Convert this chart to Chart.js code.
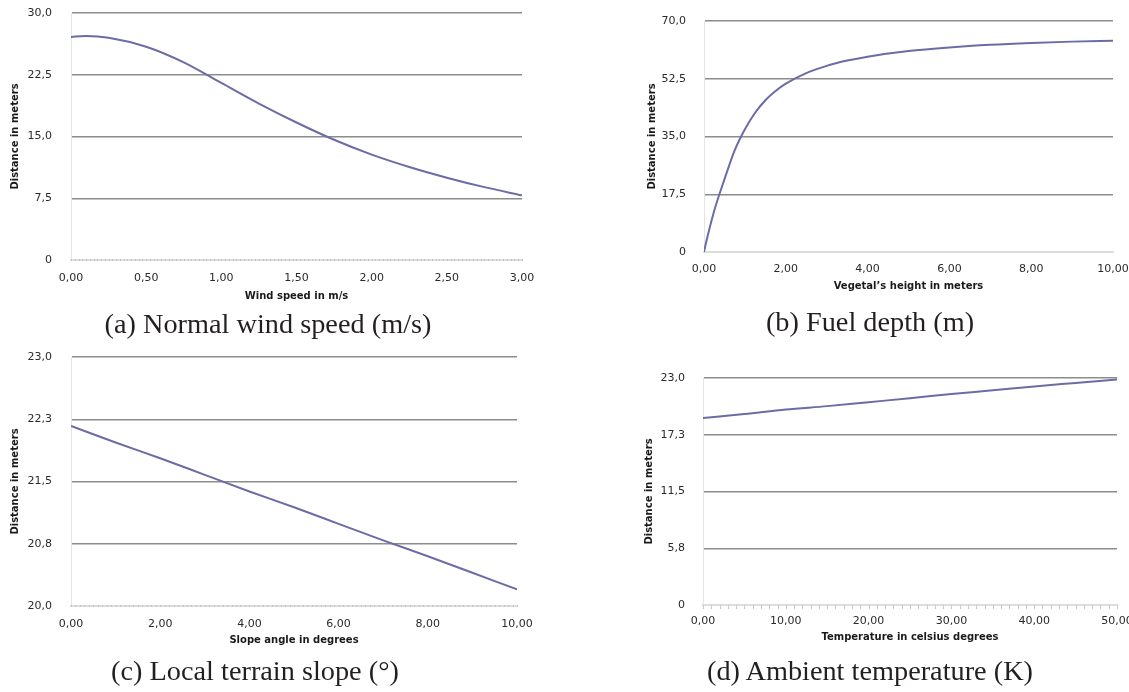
<!DOCTYPE html>
<html>
<head>
<meta charset="utf-8">
<script src="https://cdn.jsdelivr.net/npm/chart.js@4.4.1/dist/chart.umd.min.js"></script>
<style>
  html, body { margin: 0; padding: 0; background: #fff; overflow: hidden; width: 1129px; height: 692px; }
  canvas { position: absolute; }
  .cap { position: absolute; width: 500px; text-align: center; white-space: nowrap;
         font-family: "Liberation Serif", "Times New Roman", serif; font-size: 28.3px; line-height: 32px; color: #231f20; }
</style>
</head>
<body>
<canvas id="chartA" width="560" height="310" style="left:0;top:0"></canvas>
<canvas id="chartB" width="500" height="300" style="left:637px;top:0"></canvas>
<canvas id="chartC" width="560" height="320" style="left:0;top:340px"></canvas>
<canvas id="chartD" width="500" height="320" style="left:637px;top:340px"></canvas>
<div class="cap" style="left:18px;top:308px">(a) Normal wind speed (m/s)</div>
<div class="cap" style="left:620px;top:306px">(b) Fuel depth (m)</div>
<div class="cap" style="left:5px;top:655px">(c) Local terrain slope (°)</div>
<div class="cap" style="left:620px;top:655px">(d) Ambient temperature (K)</div>
<script>
// (a) normal wind speed
const windSpeed = [0, 0.1, 0.25, 0.5, 0.75, 1, 1.25, 1.5, 1.75, 2, 2.25, 2.5, 2.75, 3];
const windDist = [27.1, 27.2, 27.0, 25.9, 24.0, 21.5, 19.0, 16.7, 14.6, 12.8, 11.3, 10.0, 8.85, 7.85];
const windXTicks = [0, 0.5, 1, 1.5, 2, 2.5, 3];
const windYTicks = [0, 7.5, 15, 22.5, 30];

// (b) fuel depth
const fuelDepth = [0, 0.05, 0.25, 0.5, 0.75, 1, 1.25, 1.5, 1.75, 2, 2.5, 3, 3.5, 4, 5, 6, 7, 8, 9, 10];
const fuelDist = [0, 2.8, 12.5, 22, 30.8, 37.2, 42.2, 46, 48.8, 51, 54.2, 56.4, 58, 59.2, 60.9, 62, 62.8, 63.35, 63.75, 64.05];
const fuelXTicks = [0, 2, 4, 6, 8, 10];
const fuelYTicks = [0, 17.5, 35, 52.5, 70];

// (c) local terrain slope
const slopeAngle = [0, 1, 2, 3, 4, 5, 6, 7, 8, 9, 10];
const slopeDist = [22.17, 21.97, 21.78, 21.58, 21.38, 21.19, 20.99, 20.79, 20.6, 20.4, 20.2];
const slopeXTicks = [0, 2, 4, 6, 8, 10];
const slopeYTicks = [20, 20.75, 21.5, 22.25, 23];

// (d) ambient temperature
const temperature = [0, 5, 10, 15, 20, 25, 30, 35, 40, 45, 50];
const tempDist = [18.95, 19.35, 19.8, 20.15, 20.55, 20.95, 21.38, 21.75, 22.15, 22.5, 22.85];
const tempXTicks = [0, 10, 20, 30, 40, 50];
const tempYTicks = [0, 5.75, 11.5, 17.25, 23];

const lineColor = "#6b6ca6";
const tickFont = { family: "DejaVu Sans", size: 11 };
const titleFont = { family: "DejaVu Sans", size: 10, weight: "bold" };

const comma = function (v, digits) {
  return v.toFixed(digits).replace(".", ",");
};

// little ruler ticks along the bottom axis
const minorTicks = {
  id: "minorTicks",
  afterDraw(chart, args, opts) {
    if (!opts.step) return;
    const sx = chart.scales.x;
    const y = chart.chartArea.bottom;
    const ctx = chart.ctx;
    ctx.save();
    ctx.strokeStyle = opts.color;
    ctx.lineWidth = 1;
    ctx.beginPath();
    for (let v = sx.min; v <= sx.max + 1e-9; v += opts.step) {
      const px = Math.round(sx.getPixelForValue(v)) + 0.5;
      ctx.moveTo(px, y + opts.from);
      ctx.lineTo(px, y + opts.to);
    }
    ctx.stroke();
    ctx.restore();
  },
};

const buildChart = function (id, p) {
  const points = p.xs.map((x, i) => ({ x: x, y: p.ys[i] }));
  const yMin = p.yTicks[0];
  const yMax = p.yTicks[p.yTicks.length - 1];
  return new Chart(document.getElementById(id), {
    type: "line",
    data: {
      datasets: [{
        data: points,
        borderColor: lineColor,
        borderWidth: 2,
        pointRadius: 0,
        fill: false,
        cubicInterpolationMode: "monotone",
      }],
    },
    options: {
      responsive: false,
      animation: false,
      devicePixelRatio: 1,
      layout: { padding: { top: p.top, right: p.right, left: 0, bottom: 0 } },
      plugins: {
        legend: { display: false },
        tooltip: { enabled: false },
        minorTicks: p.minor,
      },
      scales: {
        x: {
          type: "linear",
          min: p.xTicks[0],
          max: p.xTicks[p.xTicks.length - 1],
          afterBuildTicks: (s) => { s.ticks = p.xTicks.map((v) => ({ value: v })); },
          afterFit: (s) => {
            s.height = p.xHeight;
            s.paddingLeft = 0;
            s.paddingRight = 0;
          },
          grid: { display: false, drawTicks: false },
          border: { color: "#dddddd", width: 2 },
          ticks: {
            padding: p.xPad,
            font: tickFont,
            color: "#2a2a2a",
            maxRotation: 0,
            autoSkip: false,
            callback: (v) => comma(v, 2),
          },
          title: {
            display: true,
            text: p.xTitle,
            font: titleFont,
            color: "#1a1a1a",
            padding: { top: 0, bottom: p.xTitlePad },
          },
        },
        y: {
          min: yMin,
          max: yMax,
          afterBuildTicks: (s) => { s.ticks = p.yTicks.map((v) => ({ value: v })); },
          afterFit: (s) => {
            s.width = p.yWidth;
            s.paddingTop = 0;
            s.paddingBottom = 0;
          },
          grid: {
            drawTicks: false,
            lineWidth: 1.5,
            color: (c) => (c.tick && c.tick.value === yMin ? "rgba(0,0,0,0)" : "#8c8c8c"),
          },
          border: { color: "#e4e4e4", width: 1 },
          ticks: {
            padding: p.yPad,
            font: tickFont,
            color: "#2a2a2a",
            autoSkip: false,
            callback: (v) => (v === 0 ? "0" : comma(v, 1)),
          },
          title: {
            display: true,
            text: "Distance in meters",
            font: titleFont,
            color: "#1a1a1a",
            padding: { top: p.yTitlePad, bottom: 0 },
          },
        },
      },
    },
    plugins: [minorTicks],
  });
};

buildChart("chartA", {
  xs: windSpeed, ys: windDist, xTicks: windXTicks, yTicks: windYTicks,
  xTitle: "Wind speed in m/s",
  top: 13, right: 38, yWidth: 71, xHeight: 50,
  xPad: 11.5, xTitlePad: 8, yPad: 19, yTitlePad: 9,
  minor: { step: 0.025, color: "#c4c4c4", from: -1, to: 1 },
});

buildChart("chartB", {
  xs: fuelDepth, ys: fuelDist, xTicks: fuelXTicks, yTicks: fuelYTicks,
  xTitle: "Vegetal\u2019s height in meters",
  top: 21, right: 24, yWidth: 67, xHeight: 48,
  xPad: 10.5, xTitlePad: 8, yPad: 18, yTitlePad: 9.5,
  minor: { step: 0 },
});

buildChart("chartC", {
  xs: slopeAngle, ys: slopeDist, xTicks: slopeXTicks, yTicks: slopeYTicks,
  xTitle: "Slope angle in degrees",
  top: 17, right: 43, yWidth: 71, xHeight: 54,
  xPad: 11.5, xTitlePad: 14, yPad: 19, yTitlePad: 9,
  minor: { step: 0.1, color: "#c4c4c4", from: -1, to: 1 },
});

buildChart("chartD", {
  xs: temperature, ys: tempDist, xTicks: tempXTicks, yTicks: tempYTicks,
  xTitle: "Temperature in celsius degrees",
  top: 38, right: 20, yWidth: 66, xHeight: 55,
  xPad: 10, xTitlePad: 17, yPad: 18, yTitlePad: 6.5,
  minor: { step: 1, color: "#c8c8c8", from: 0, to: 4 },
});
</script>
</body>
</html>
